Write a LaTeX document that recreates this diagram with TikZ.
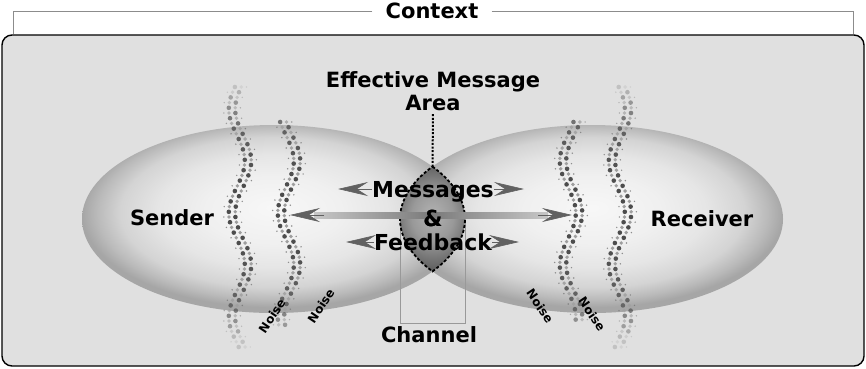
\documentclass[tikz,border=0pt]{standalone}
\usepackage{fontspec}
\setmainfont{DejaVu Sans}
\usetikzlibrary{arrows.meta,shapes.geometric,calc}

\pgfdeclareradialshading{eggshade}{\pgfpoint{0bp}{3bp}}{color(0bp)=(black!3); color(9bp)=(black!6); color(15bp)=(black!10); color(20bp)=(black!17); color(23bp)=(black!27); color(25bp)=(black!35); color(50bp)=(black!35)}
\pgfdeclareradialshading{lensshade}{\pgfpoint{0bp}{2bp}}{color(0bp)=(black!30); color(12bp)=(black!40); color(20bp)=(black!54); color(25bp)=(black!62); color(50bp)=(black!62)}

\begin{document}
\begin{tikzpicture}[x=1pt, y=-1pt]
    % Define styles
    \tikzstyle{frame} = [draw=black, line width=1.4pt, fill=black!12, rounded corners=10pt]
    \tikzstyle{egg} = [ellipse, shade, shading=eggshade, minimum width=383pt, minimum height=188pt, inner sep=0pt]
    \tikzstyle{bigtext} = [font=\bfseries\fontsize{21}{23}\selectfont, inner sep=0pt, anchor=base]
    \tikzstyle{msgtext} = [font=\bfseries\fontsize{22}{24}\selectfont, inner sep=0pt, anchor=base]
    \tikzstyle{noisetxt} = [font=\bfseries\fontsize{12}{14}\selectfont, inner sep=0pt]
    \tikzstyle{ctxline} = [draw=black!45, line width=0.8pt]
    \tikzstyle{chanline} = [draw=black!40, line width=0.6pt]
    \tikzstyle{lens} = [shading=lensshade, draw=black, line width=1.8pt, dash pattern=on 3pt off 2pt]
    \tikzstyle{dotline} = [draw=black, line width=2pt, dash pattern=on 2pt off 1.6pt, shorten <=3pt]
    \tikzstyle{tiphead} = [-{Stealth[length=30pt, width=14pt, inset=11pt]}, draw=black!62, line width=0.6pt]
    \tikzstyle{noisedot} = [fill=black!70]
    \tikzstyle{noisedim} = [fill=black!38]

    \useasboundingbox (0,0) rectangle (866,368);
    \fill[white] (0,0) rectangle (866,368);

    % Context frame
    \draw[frame] (2,35) rectangle (864,366);
    \node[font=\bfseries\fontsize{21}{23}\selectfont, inner xsep=13pt, inner ysep=0pt, text height=14pt, text depth=0pt] (ctx) at (432,11) {Context};
    \draw[ctxline] (ctx.west) -| (13,34);
    \draw[ctxline] (ctx.east) -| (853,34);

    % Sender and receiver
    \node[egg] (sendbox) at (273.5,219) {};
    \node[egg] (recvbox) at (591.5,219) {};

    % Channel and effective area
    \coordinate (chL) at (400,219);
    \coordinate (chR) at (465,219);
    \draw[chanline] (chL) -- ++(0,104) -| (chR);
    \coordinate (lenstop) at (432.5,166.6);
    \shadedraw[lens] (lenstop) arc[start angle=33.87, end angle=-33.87, x radius=191.5pt, y radius=94pt]
        arc[start angle=213.87, end angle=146.13, x radius=191.5pt, y radius=94pt] -- cycle;

    % Noise bands
    \foreach \xc/\sg/\ya/\yb in {240/-1/87/350, 289/-1/122/325, 571/1/122/320, 620/1/87/347} {
        \pgfmathtruncatemacro{\nk}{(\yb-\ya)/5.2}
        \foreach \k in {0,...,\nk} {
            \pgfmathsetmacro{\yy}{\ya+5.2*\k}
            \pgfmathsetmacro{\xx}{\xc+\sg*8*cos((\yy-213)*3.4615)}
            \pgfmathsetmacro{\op}{max(0.2, 1-0.9*((\yy-213)/140)^4-0.25*((\yy-213)/140)^2)}
            \pgfmathsetmacro{\opb}{0.6*\op}
            \pgfmathtruncatemacro{\odd}{mod(\k,2)}
            \ifnum\odd=0
                \fill[noisedot, opacity=\op] (\xx-3.2,\yy) circle (2.3pt);
                \fill[noisedim, opacity=\op] (\xx+3.2,\yy) circle (1.9pt);
                \fill[noisedot, opacity=\opb] (\xx+8.4,\yy) circle (0.8pt);
            \else
                \fill[noisedot, opacity=\op] (\xx+3.2,\yy) circle (2.3pt);
                \fill[noisedim, opacity=\op] (\xx-3.2,\yy) circle (1.9pt);
                \fill[noisedot, opacity=\opb] (\xx-8.4,\yy) circle (0.8pt);
            \fi
        }
    }

    % Text nodes
    \node[bigtext, anchor=north, align=center] (area) at (433,71.5) {Effective Message\\Area};
    \draw[dotline] (area.south) -- (lenstop);
    \node[bigtext] (sender) at (172,225) {Sender};
    \node[bigtext] (receiver) at (702,226) {Receiver};
    \node[msgtext] (msg) at (433,197) {Messages};
    \node[msgtext] (amp) at (433,226) {\&};
    \node[msgtext] (fdb) at (433,250) {Feedback};
    \node[bigtext] (channel) at (429,342) {Channel};
    \node[noisetxt, rotate=56] (noise1) at (272,316) {Noise};
    \node[noisetxt, rotate=56] (noise2) at (321,306) {Noise};
    \node[noisetxt, rotate=-56] (noise3) at (540,306) {Noise};
    \node[noisetxt, rotate=-56] (noise4) at (592,314) {Noise};

    % Message arrows
    \coordinate (msgL) at (338,189);
    \coordinate (msgR) at (524,189);
    \coordinate (fdbL) at (346,242);
    \coordinate (fdbR) at (519,242);
    \coordinate (sigL) at (290,215);
    \coordinate (sigR) at (572,215);
    \draw[tiphead] (msg.west |- msgL) -- (msgL);
    \draw[tiphead] (msg.east |- msgR) -- (msgR);
    \draw[tiphead] (fdb.west |- fdbL) -- (fdbL);
    \draw[tiphead] (fdb.east |- fdbR) -- (fdbR);
    \shade[left color=black!22, right color=black!22, middle color=black!52] ($(sigL)+(24,-3)$) rectangle ($(sigR)+(-24,3)$);
    \draw[tiphead] ($(sigL)+(34,0)$) -- (sigL);
    \draw[tiphead] ($(sigR)+(-34,0)$) -- (sigR);
    \node[msgtext] at (amp.base) {\&};
\end{tikzpicture}
\end{document}
